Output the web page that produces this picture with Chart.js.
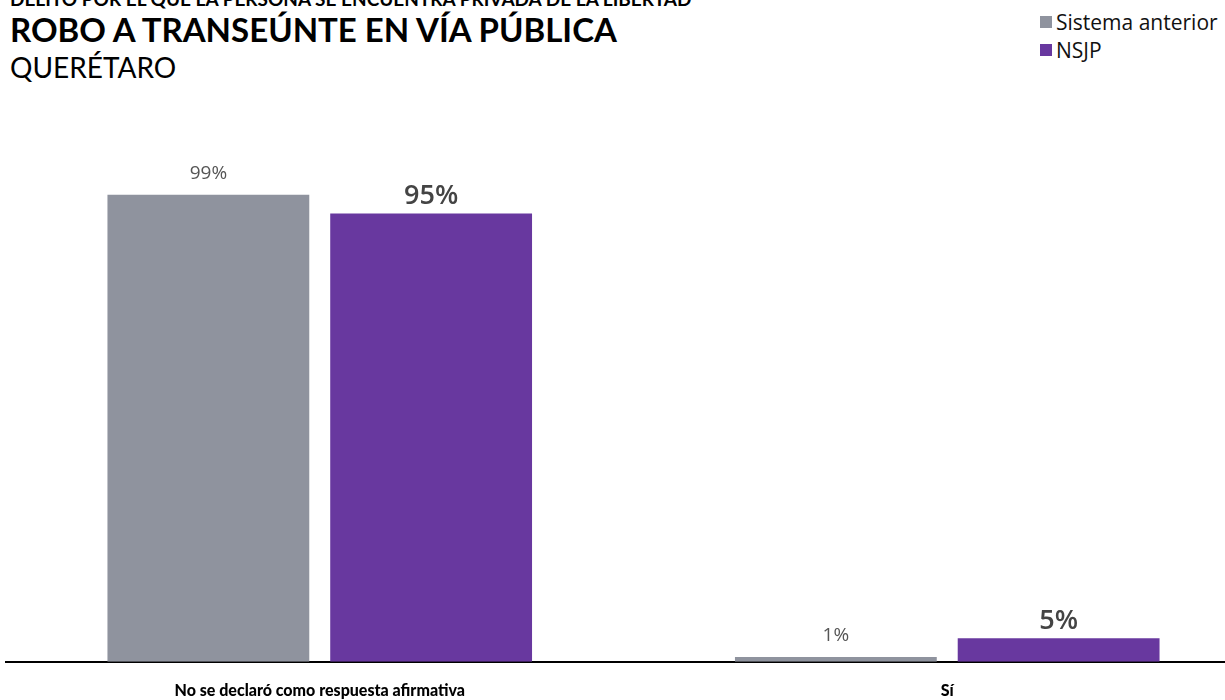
<!DOCTYPE html>
<html>
<head>
<meta charset="utf-8">
<script src="https://cdn.jsdelivr.net/npm/chart.js@4.4.1/dist/chart.umd.min.js"></script>
<style>
  body { margin: 0; width: 1225px; height: 700px; overflow: hidden; background: #fff; font-family: Lato, sans-serif; position: relative; }
  .kicker { position: absolute; left: 10px; top: -13px; font-weight: 700; font-size: 19px; color: #000; white-space: nowrap; }
  .title { position: absolute; left: 10px; top: 9px; font-weight: 700; font-size: 33px; color: #000; white-space: nowrap; }
  .sub { position: absolute; left: 10px; top: 50px; font-size: 28px; color: #000; white-space: nowrap; }
  #legend { position: absolute; left: 1040px; top: 8px; font-family: "Open Sans", sans-serif; font-size: 21px; color: #111; }
  #legend div { height: 28px; display: flex; align-items: center; }
  #legend span.box { width: 12px; height: 12px; margin-right: 4px; display: inline-block; }
  #wrap { position: absolute; left: 0; top: 0; width: 1265px; height: 719px; }
</style>
</head>
<body>
<div class="kicker">DELITO POR EL QUE LA PERSONA SE ENCUENTRA PRIVADA DE LA LIBERTAD</div>
<div class="title">ROBO A TRANSEÚNTE EN VÍA PÚBLICA</div>
<div class="sub">QUERÉTARO</div>
<div id="legend"></div>
<div id="wrap"><canvas id="chart" width="1265" height="719"></canvas></div>
<script>
const categories = ["No se declaró como respuesta afirmativa", "Sí"];
const sistemaAnterior = [99, 1];
const nsjp = [95, 5];
const seriesNames = ["Sistema anterior", "NSJP"];
const colors = ["#8f939e", "#68389f"];

const legend = document.getElementById("legend");
seriesNames.forEach((name, i) => {
  const row = document.createElement("div");
  row.innerHTML = '<span class="box" style="background:' + colors[i] + '"></span>' + name;
  legend.appendChild(row);
});

// percent labels above the bars: light for the old system, bold for NSJP
const valueLabels = {
  id: "valueLabels",
  afterDatasetsDraw(chart) {
    const ctx = chart.ctx;
    ctx.save();
    ctx.textAlign = "center";
    ctx.textBaseline = "middle";
    chart.data.datasets.forEach((ds, di) => {
      const meta = chart.getDatasetMeta(di);
      meta.data.forEach((bar, i) => {
        if (di === 0) {
          ctx.font = "19px 'Open Sans'";
          ctx.fillStyle = "#555";
          ctx.fillText(ds.data[i] + "%", bar.x, bar.y - 21);
        } else {
          ctx.font = "600 27px 'Open Sans'";
          ctx.fillStyle = "#444";
          ctx.fillText(ds.data[i] + "%", bar.x, bar.y - 17);
        }
      });
    });
    ctx.restore();
  },
};

new Chart(document.getElementById("chart"), {
  type: "bar",
  data: {
    labels: categories,
    datasets: [
      { label: seriesNames[0], data: sistemaAnterior, backgroundColor: colors[0] },
      { label: seriesNames[1], data: nsjp, backgroundColor: colors[1] },
    ],
  },
  options: {
    responsive: false,
    animation: false,
    maintainAspectRatio: false,
    layout: { padding: { top: 190, left: 6, right: 4, bottom: 0 } },
    categoryPercentage: 0.71,
    barPercentage: 0.906,
    plugins: { legend: { display: false }, tooltip: { enabled: false } },
    scales: {
      x: {
        grid: { display: false, drawTicks: false },
        border: { color: "#000", width: 2 },
        ticks: { color: "#000", padding: 19, font: { family: "Lato", size: 16, weight: 900 } },
      },
      y: { display: false, min: 0, max: 100 },
    },
  },
  plugins: [valueLabels],
});
</script>
</body>
</html>
